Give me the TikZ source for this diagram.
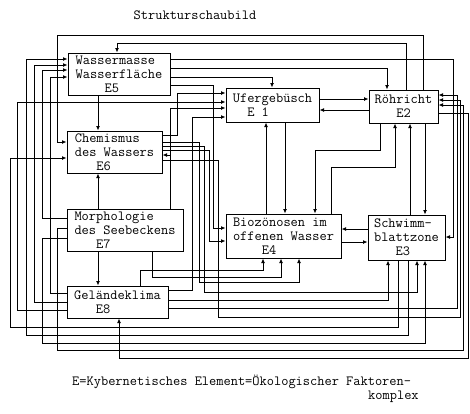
\documentclass[tikz,border=0pt]{standalone}
\usepackage{fontspec}
\usetikzlibrary{arrows.meta}
\tikzset{
	txt/.style = {font=\ttfamily\addfontfeatures{FakeBold=0.6}\fontsize{14}{14}\selectfont, inner sep=0pt},
	box/.style = {txt, draw, line width=1pt, align=left},
	wire/.style = {line width=0.9pt, -{Latex[length=4.5pt,width=4pt]}},
}
\begin{document}
\begin{tikzpicture}[x=1pt, y=-1pt, line join=miter]
\useasboundingbox (0,0) rectangle (470,413);
\node[txt] (title) at (195,15) {Strukturschaubild};
\node[box, minimum width=102pt, minimum height=42pt] (E5) at (119,74) {Wassermasse\\Wasserfläche\\\phantom{xxxx}E5};
\node[box, minimum width=93pt, minimum height=34pt] (E1) at (272.5,105) {Ufergebüsch\\\phantom{xx}E 1};
\node[box, minimum width=69pt, minimum height=33pt, align=center] (E2) at (403.5,106.5) {Röhricht\\E2};
\node[box, minimum width=95pt, minimum height=42pt] (E6) at (114.5,152) {Chemismus\\des Wassers\\\phantom{xxx}E6};
\node[box, minimum width=116pt, minimum height=42pt] (E7) at (125,230) {Morphologie\\des Seebeckens\\\phantom{xxx}E7};
\node[box, minimum width=115pt, minimum height=44pt] (E4) at (283.5,236) {Biozönosen im\\offenen Wasser\\\phantom{xxxx}E4};
\node[box, minimum width=77pt, minimum height=45pt] (E3) at (406.5,237.5) {Schwimm-\\blattzone\\\phantom{xxx}E3};
\node[box, minimum width=101pt, minimum height=32pt] (E8) at (117.5,302) {Geländeklima\\\phantom{xxx}E8};
\node[txt, anchor=west] (cap) at (72,382) {E=Kybernetisches Element=Ökologischer Faktoren-};
\node[txt, anchor=west] (capb) at (368,397) {komplex};

\foreach \a/\b in {E5.south/E6.north, E7.north/E6.south, E7.south/E8.north}
	\draw[wire] (\a -| 98,0) -- (\b -| 98,0);
\foreach \a/\b/\y in {E1.east/E2.west/99, E2.west/E1.east/110, E3.west/E4.east/229, E4.east/E3.west/242}
	\draw[wire] (\a |- 0,\y) -- (\b |- 0,\y);
\foreach \a/\b/\x in {E4.north/E1.south/266, E1.south/E4.north/285, E3.north/E2.south/410, E2.south/E3.north/425}
	\draw[wire] (\a -| \x,0) -- (\b -| \x,0);

\draw[wire] (E2.north -| 423,0) |- (57,35) |- (E6.west |- 0,142);
\draw[wire] (E2.north -| 406,0) |- (117,43) -- (E5.north -| 117,0);
\draw[wire] (E5.east |- 0,59) -| (453,237) -- (E3.east |- 0,237);
\draw[wire] (E5.east |- 0,68) -| (E2.north -| 387,0);
\draw[wire] (E5.east |- 0,77) -| (E1.north -| 272,0);
\draw[wire] (E5.east |- 0,85) -| (213,228) -- (E4.west |- 0,228);
\draw[wire] (E2.south -| 380,0) |- (315,150) -- (E4.north -| 315,0);
\draw[wire] (E4.north -| 331,0) |- (395,167) -- (E2.south -| 395,0);

\draw[wire] (E6.east |- 0,135) -| (177,93) -- (E1.west |- 0,93);
\draw[wire] (E8.west |- 0,310) -| (17,102) -- (E1.west |- 0,102);
\draw[wire] (E7.north -| 170,0) |- (E1.west |- 0,108);
\draw[wire] (E8.east |- 0,290) -| (192,117) -- (E1.west |- 0,117);
\draw[wire] (E7.north -| 170,0) |- (E6.east |- 0,155);

\draw[wire] (E6.east |- 0,142) -| (199,282) -| (E4.south -| 299,0);
\draw[wire] (E6.east |- 0,146) -| (204,292) -| (E3.south -| 417,0);
\draw[wire] (E6.east |- 0,150) -| (209,241) -- (E4.west |- 0,241);
\draw[wire] (E6.east |- 0,160) -| (218,317) -| (460,100) -- (E2.east |- 0,100);
\draw[wire] (E8.east |- 0,300) -| (E3.south -| 388,0);
\draw[wire] (E8.east |- 0,308) -| (457,95) -- (E2.east |- 0,95);
\draw[wire] (E8.north -| 140,0) |- (263,270) -- (E4.south -| 263,0);
\draw[wire] (E7.south -| 152,0) |- (281,277) -- (E4.south -| 281,0);

\draw[wire] (E3.south -| 398,0) |- (10,327) |- (E6.west |- 0,158);
\draw[wire] (E3.south -| 408,0) |- (26,335) |- (E5.west |- 0,59);
\draw[wire] (E7.west |- 0,238) -| (42,343) -| (E3.south -| 425,0);
\draw[wire] (E7.west |- 0,218) -| (42,70) -- (E5.west |- 0,70);
\draw[wire] (E7.west |- 0,228) -| (57,350) -| (463,105) -- (E2.east |- 0,105);
\draw[wire] (E2.east |- 0,113) -| (468,358) -| (E8.south -| 119,0);
\draw[wire, {Latex[length=4.5pt,width=4pt]}-] (E5.west |- 0,65) -| (34,302) -- (E8.west |- 0,302);
\draw[wire, {Latex[length=4.5pt,width=4pt]}-] (E5.west |- 0,77) -| (50,293) -- (E8.west |- 0,293);
\end{tikzpicture}
\end{document}
